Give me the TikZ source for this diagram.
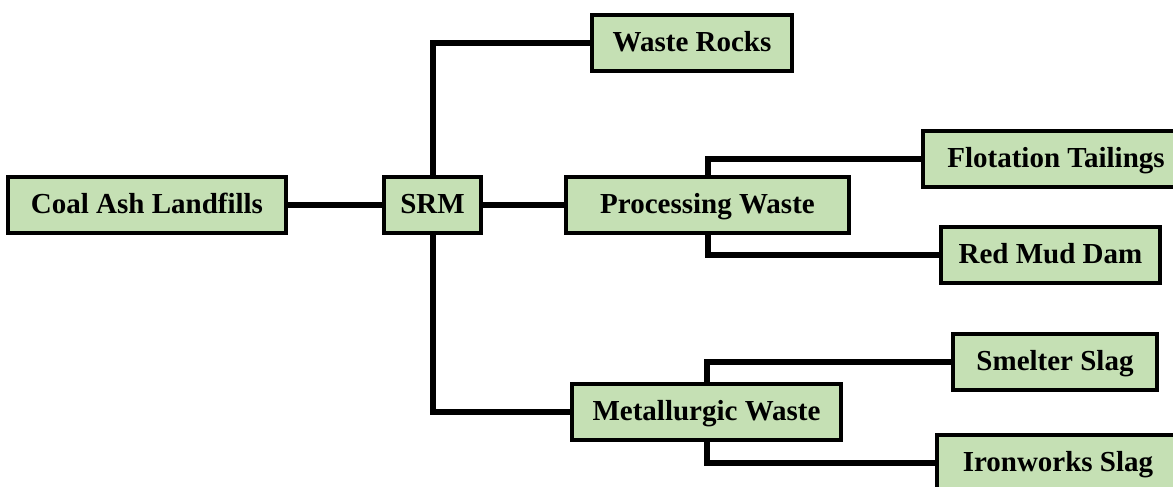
\documentclass[tikz,border=0pt]{standalone}
\usepackage{fontspec}
\setmainfont{Liberation Serif}
\definecolor{boxgreen}{HTML}{C5E0B4}
\tikzset{
  wbox/.style={draw=black, line width=4pt, fill=boxgreen, inner sep=0pt,
    font=\fontsize{29}{34}\selectfont\bfseries, text=black,
    text height=20pt, text depth=3pt, minimum height=56pt},
  link/.style={draw=black, line width=6pt, line join=miter}
}
\begin{document}
\begin{tikzpicture}[x=1pt, y=-1pt]
  \useasboundingbox (0,0) rectangle (1173,487);
  \clip (0,0) rectangle (1173,487);

  % centres of the boxes on the main horizontal axis
  \coordinate (cA) at (147,204.5);
  \coordinate (cS) at (432.5,204.5);
  \coordinate (cP) at (707.5,204.5);
  \coordinate (cM) at (706.5,411.5);

  % boxes
  \node[wbox, minimum width=278pt] (coal)  at (cA)          {Coal Ash Landfills};
  \node[wbox, minimum width=97pt]  (srm)   at (cS)          {SRM};
  \node[wbox, minimum width=200pt] (rocks) at (692,43)      {Waste Rocks};
  \node[wbox, minimum width=283pt] (proc)  at (cP)          {Processing Waste};
  \node[wbox, minimum width=266pt] (flot)  at (1056,158.5)  {Flotation Tailings};
  \node[wbox, minimum width=219pt] (red)   at (1050.5,255)  {Red Mud Dam};
  \node[wbox, minimum width=269pt] (metal) at (cM)          {Metallurgic Waste};
  \node[wbox, minimum width=204pt] (smelt) at (1055,361.5)  {Smelter Slag};
  \node[wbox, minimum width=242pt] (iron)  at (1058,463)    {Ironworks Slag};

  % tree connectors, border to border
  \path[link] (coal.east) -- (srm.west);
  \path[link] (srm.east) -- (proc.west);
  \path[link] (srm.north) |- (rocks.west);
  \path[link] (srm.south) |- (metal.west);
  \path[link] (proc.north) |- (flot.west);
  \path[link] (proc.south) |- (red.west);
  \path[link] (metal.north) |- (smelt.west);
  \path[link] (metal.south) |- (iron.west);
\end{tikzpicture}
\end{document}
